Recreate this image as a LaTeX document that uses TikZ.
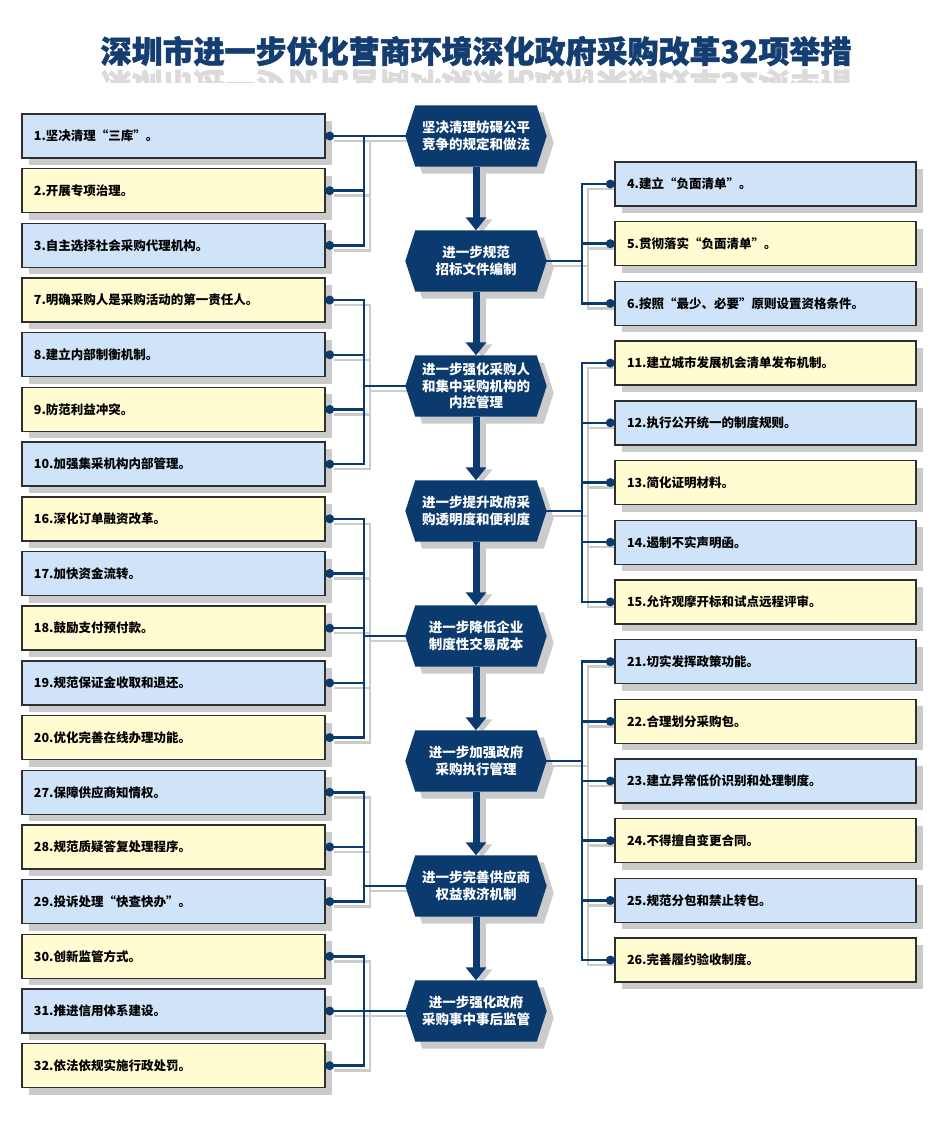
\documentclass[tikz,border=0pt]{standalone}
\usepackage{fontspec}
\setmainfont{Noto Sans CJK SC}
\newfontfamily\titlefont{Noto Sans CJK SC}[BoldFeatures={FakeBold=1.6}]
\usetikzlibrary{arrows.meta,backgrounds,shadows,calc}
\definecolor{navy}{HTML}{0B3A6E}
\definecolor{titlenavy}{HTML}{143E72}
\definecolor{bxblue}{HTML}{CFE4F9}
\definecolor{bxyellow}{HTML}{FFFCD2}
\definecolor{bxborder}{HTML}{2F2F2F}
\definecolor{shadowgray}{HTML}{CBCBCB}
\tikzset{
  box/.style={draw=bxborder, line width=1.4pt, minimum height=44pt, inner xsep=12pt, inner ysep=0pt,
    align=left, text=black, font=\bfseries\fontsize{12.5}{14}\selectfont,
    drop shadow={shadow xshift=7pt, shadow yshift=-7pt, fill=shadowgray, opacity=1}},
  lbox/.style={box, text width=279pt},
  rbox/.style={box, text width=277pt},
  bb/.style={fill=bxblue},
  by/.style={fill=bxyellow},
  hexn/.style={minimum width=141pt, minimum height=61pt, inner sep=0pt, text=white, align=center,
    font=\bfseries\fontsize{13.5}{16.5}\selectfont},
  titletext/.style={inner sep=0pt, anchor=base, font=\titlefont\bfseries\fontsize{31}{36}\selectfont},
  conn/.style={draw=navy, line width=2.5pt, line cap=rect},
  connsh/.style={draw=shadowgray, line width=2.5pt, line cap=rect},
  arr/.style={draw=navy, line width=7pt, -{Triangle[width=20pt,length=13pt]}},
  arrsh/.style={draw=shadowgray, line width=7pt, -{Triangle[width=20pt,length=13pt]}},
}
\newcommand{\Lgroup}[6]{%
  \draw[#1] ($(#3.west)+#2$) -- ($(#3.west -| lbus)+#2$);
  \draw[#1] ($(#4.east -| lbus)+#2$) -- ($(#5.east -| lbus)+#2$);
  \foreach \bx in {#6} { \draw[#1] ($(\bx.east -| lbus)+#2$) -- ($(\bx.east)+(4,0)+#2$); }
}
\newcommand{\Rgroup}[6]{%
  \draw[#1] ($(#3.east)+#2$) -- ($(#3.east -| rbus)+#2$);
  \draw[#1] ($(#4.west -| rbus)+#2$) -- ($(#5.west -| rbus)+#2$);
  \foreach \bx in {#6} { \draw[#1] ($(\bx.west -| rbus)+#2$) -- ($(\bx.west)+(-4,0)+#2$); }
}
\begin{document}
\begin{tikzpicture}[x=1pt, y=-1pt]
\useasboundingbox (0,0) rectangle (940,1122);
\coordinate (lbus) at (364,0);
\coordinate (rbus) at (582,0);

% title and its reflection
\node[titletext, text=titlenavy] (title) at (476,63) {深圳市进一步优化营商环境深化政府采购改革32项举措};
\begin{scope}
  \clip (0,67.8) rectangle (940,82);
  \node[titletext, text=gray!28, yscale=-1, transform shape] (titlerefl) at (476,72.5) {深圳市进一步优化营商环境深化政府采购改革32项举措};
\end{scope}

% hexagon text nodes
\node[hexn] (h1) at (476,136) {坚决清理妨碍公平\\竞争的规定和做法};
\node[hexn] (h2) at (476,261) {进一步规范\\招标文件编制};
\node[hexn] (h3) at (476,386) {进一步强化采购人\\和集中采购机构的\\内控管理};
\node[hexn] (h4) at (476,511) {进一步提升政府采\\购透明度和便利度};
\node[hexn] (h5) at (476,636) {进一步降低企业\\制度性交易成本};
\node[hexn] (h6) at (476,761) {进一步加强政府\\采购执行管理};
\node[hexn] (h7) at (476,886) {进一步完善供应商\\权益救济机制};
\node[hexn] (h8) at (476,1011) {进一步强化政府\\采购事中事后监管};

% left boxes
\node[lbox,bb] (b1)  at (173.5,136)    {1.坚决清理“三库”。};
\node[lbox,by] (b2)  at (173.5,190.69) {2.开展专项治理。};
\node[lbox,bb] (b3)  at (173.5,245.38) {3.自主选择社会采购代理机构。};
\node[lbox,by] (b7)  at (173.5,300.06) {7.明确采购人是采购活动的第一责任人。};
\node[lbox,bb] (b8)  at (173.5,354.75) {8.建立内部制衡机制。};
\node[lbox,by] (b9)  at (173.5,409.44) {9.防范利益冲突。};
\node[lbox,bb] (b10) at (173.5,464.13) {10.加强集采机构内部管理。};
\node[lbox,by] (b16) at (173.5,518.81) {16.深化订单融资改革。};
\node[lbox,bb] (b17) at (173.5,573.5)  {17.加快资金流转。};
\node[lbox,by] (b18) at (173.5,628.19) {18.鼓励支付预付款。};
\node[lbox,bb] (b19) at (173.5,682.88) {19.规范保证金收取和退还。};
\node[lbox,by] (b20) at (173.5,737.56) {20.优化完善在线办理功能。};
\node[lbox,bb] (b27) at (173.5,792.25) {27.保障供应商知情权。};
\node[lbox,by] (b28) at (173.5,846.94) {28.规范质疑答复处理程序。};
\node[lbox,bb] (b29) at (173.5,901.63) {29.投诉处理“快查快办”。};
\node[lbox,by] (b30) at (173.5,956.31) {30.创新监管方式。};
\node[lbox,bb] (b31) at (173.5,1011)   {31.推进信用体系建设。};
\node[lbox,by] (b32) at (173.5,1065.69){32.依法依规实施行政处罚。};

% right boxes
\node[rbox,bb] (b4)  at (765.5,184)   {4.建立“负面清单”。};
\node[rbox,by] (b5)  at (765.5,243.7) {5.贯彻落实“负面清单”。};
\node[rbox,bb] (b6)  at (765.5,303.4) {6.按照“最少、必要”原则设置资格条件。};
\node[rbox,by] (b11) at (765.5,363.1) {11.建立城市发展机会清单发布机制。};
\node[rbox,bb] (b12) at (765.5,422.8) {12.执行公开统一的制度规则。};
\node[rbox,by] (b13) at (765.5,482.5) {13.简化证明材料。};
\node[rbox,bb] (b14) at (765.5,542.2) {14.遏制不实声明函。};
\node[rbox,by] (b15) at (765.5,601.9) {15.允许观摩开标和试点远程评审。};
\node[rbox,bb] (b21) at (765.5,661.6) {21.切实发挥政策功能。};
\node[rbox,by] (b22) at (765.5,721.3) {22.合理划分采购包。};
\node[rbox,bb] (b23) at (765.5,781)   {23.建立异常低价识别和处理制度。};
\node[rbox,by] (b24) at (765.5,840.7) {24.不得擅自变更合同。};
\node[rbox,bb] (b25) at (765.5,900.4) {25.规范分包和禁止转包。};
\node[rbox,by] (b26) at (765.5,960.1) {26.完善履约验收制度。};

% background layer: page, hexagon shadows, arrow shadows, connector shadows, hexagons
\begin{pgfonlayer}{background}
  \fill[white] (0,0) rectangle (940,1122);
  \foreach \i in {1,...,8} {
    \fill[shadowgray] ($(h\i.west)+(7,7)$) -- ($(h\i.north west)+(17,7)$) -- ($(h\i.north east)+(-3,7)$)
      -- ($(h\i.east)+(7,7)$) -- ($(h\i.south east)+(-3,7)$) -- ($(h\i.south west)+(17,7)$) -- cycle;
  }
  \foreach \i/\j in {1/2,2/3,3/4,4/5,5/6,6/7,7/8} {
    \draw[arrsh] ($(h\i.south)+(6,2)$) -- ($(h\j.north)+(6,2)$);
  }
  \Lgroup{connsh}{(6,5)}{h1}{b1}{b3}{b1,b2,b3}
  \Rgroup{connsh}{(6,5)}{h2}{b4}{b6}{b4,b5,b6}
  \Lgroup{connsh}{(6,5)}{h3}{b7}{b10}{b7,b8,b9,b10}
  \Rgroup{connsh}{(6,5)}{h4}{b11}{b15}{b11,b12,b13,b14,b15}
  \Lgroup{connsh}{(6,5)}{h5}{b16}{b20}{b16,b17,b18,b19,b20}
  \Rgroup{connsh}{(6,5)}{h6}{b21}{b26}{b21,b22,b23,b24,b25,b26}
  \Lgroup{connsh}{(6,5)}{h7}{b27}{b29}{b27,b28,b29}
  \Lgroup{connsh}{(6,5)}{h8}{b30}{b32}{b30,b31,b32}
  \foreach \i in {1,...,8} {
    \fill[navy] (h\i.west) -- ($(h\i.north west)+(10,0)$) -- ($(h\i.north east)+(-10,0)$)
      -- (h\i.east) -- ($(h\i.south east)+(-10,0)$) -- ($(h\i.south west)+(10,0)$) -- cycle;
  }
\end{pgfonlayer}

% arrows between hexagons
\draw[arr] (h1) -- (h2);
\draw[arr] (h2) -- (h3);
\draw[arr] (h3) -- (h4);
\draw[arr] (h4) -- (h5);
\draw[arr] (h5) -- (h6);
\draw[arr] (h6) -- (h7);
\draw[arr] (h7) -- (h8);

% connectors
\Lgroup{conn}{(0,0)}{h1}{b1}{b3}{b1,b2,b3}
\Rgroup{conn}{(0,0)}{h2}{b4}{b6}{b4,b5,b6}
\Lgroup{conn}{(0,0)}{h3}{b7}{b10}{b7,b8,b9,b10}
\Rgroup{conn}{(0,0)}{h4}{b11}{b15}{b11,b12,b13,b14,b15}
\Lgroup{conn}{(0,0)}{h5}{b16}{b20}{b16,b17,b18,b19,b20}
\Rgroup{conn}{(0,0)}{h6}{b21}{b26}{b21,b22,b23,b24,b25,b26}
\Lgroup{conn}{(0,0)}{h7}{b27}{b29}{b27,b28,b29}
\Lgroup{conn}{(0,0)}{h8}{b30}{b32}{b30,b31,b32}

% dots
\foreach \bx in {b1,b2,b3,b7,b8,b9,b10,b16,b17,b18,b19,b20,b27,b28,b29,b30,b31,b32} {
  \fill[navy] ($(\bx.east)+(4,0)$) circle (4.5pt);
}
\foreach \bx in {b4,b5,b6,b11,b12,b13,b14,b15,b21,b22,b23,b24,b25,b26} {
  \fill[navy] ($(\bx.west)+(-4,0)$) circle (4.5pt);
}
\end{tikzpicture}
\end{document}
